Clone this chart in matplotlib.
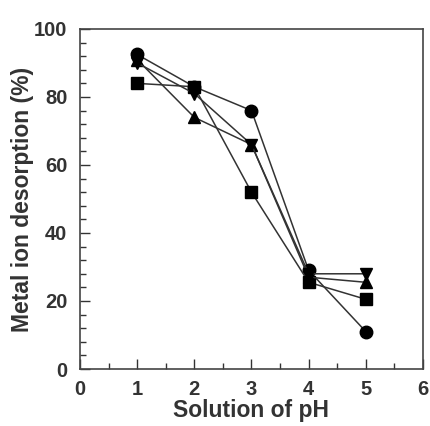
import matplotlib
matplotlib.use("Agg")
import matplotlib.pyplot as plt
from matplotlib.ticker import MultipleLocator

plt.rcParams['font.family'] = ['Liberation Sans', 'DejaVu Sans']

ph = [1, 2, 3, 4, 5]
circle_vals = [92.5, 83, 76, 29, 11]
square_vals = [84, 83, 52, 25.5, 20.5]
tri_up_vals = [91, 74, 66, 27, 25.5]
tri_down_vals = [90, 81, 66, 28, 28]

series = [
    (circle_vals, 'o', 9),
    (square_vals, 's', 8.5),
    (tri_up_vals, '^', 9),
    (tri_down_vals, 'v', 9),
]

fig = plt.figure(figsize=(4.31, 4.26), dpi=100)
ax = fig.add_axes([0.1856, 0.1338, 0.7958, 0.7982])

for vals, mk, ms in series:
    ax.plot(ph, vals, color='#333333', lw=1.1, marker=mk, ms=ms,
            mfc='black', mec='black')

ax.set_xlim(0, 6)
ax.set_ylim(0, 100)
ax.xaxis.set_major_locator(MultipleLocator(1))
ax.xaxis.set_minor_locator(MultipleLocator(0.5))
ax.yaxis.set_major_locator(MultipleLocator(20))
ax.yaxis.set_minor_locator(MultipleLocator(4))
ax.tick_params(which='both', direction='in', labelsize=14.5, colors='#333333')
ax.tick_params(which='major', length=7, width=1)
ax.tick_params(which='minor', length=4, width=1)
ax.tick_params(axis='y', pad=9)
ax.tick_params(axis='x', pad=8)
for lab in ax.get_xticklabels() + ax.get_yticklabels():
    lab.set_fontweight('bold')
for sp in ax.spines.values():
    sp.set_linewidth(1.2)
    sp.set_color('#444444')

ax.set_xlabel('Solution of pH', fontsize=16.5, fontweight='bold', labelpad=0,
              color='#333333')
ax.set_ylabel('Metal ion desorption (%)', fontsize=16.5, fontweight='bold',
              labelpad=0, color='#333333')

fig.savefig('out.png', dpi=100)
